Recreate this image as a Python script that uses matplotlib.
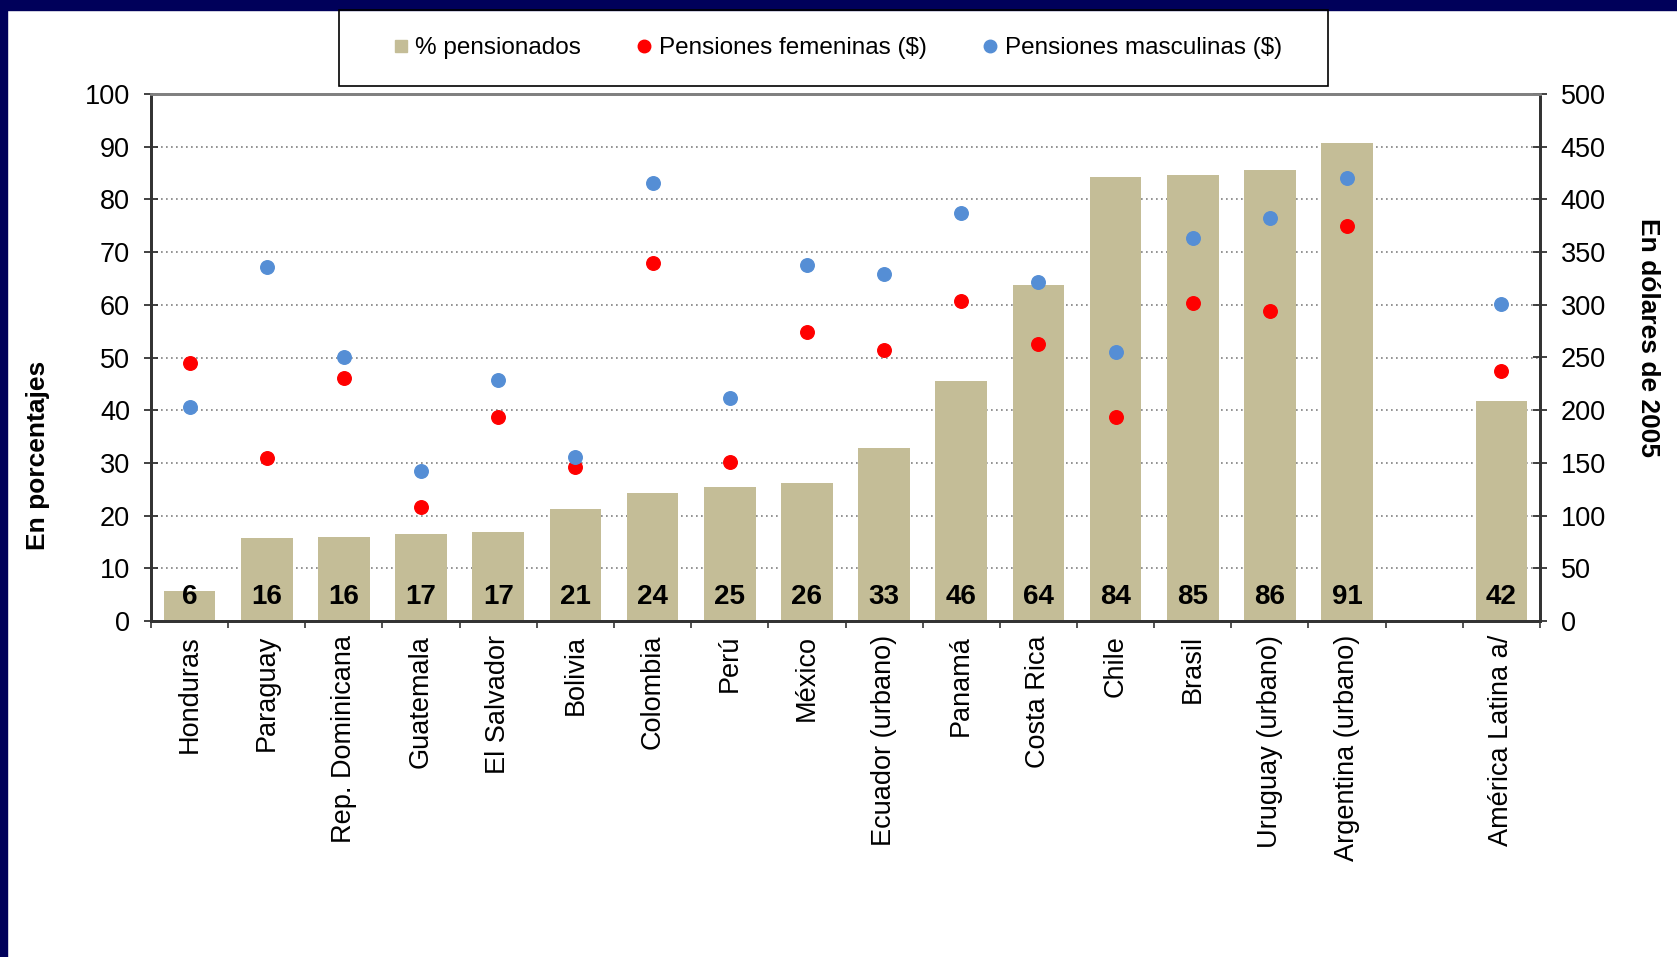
import numpy as np
import matplotlib
matplotlib.use("Agg")
import matplotlib.pyplot as plt
from matplotlib.patches import Rectangle
from matplotlib.lines import Line2D

plt.rcParams['font.family'] = ['Liberation Sans', 'DejaVu Sans']

# datos
paises = ['Honduras', 'Paraguay', 'Rep. Dominicana', 'Guatemala', 'El Salvador',
          'Bolivia', 'Colombia', 'Perú', 'México', 'Ecuador (urbano)', 'Panamá',
          'Costa Rica', 'Chile', 'Brasil', 'Uruguay (urbano)', 'Argentina (urbano)',
          'América Latina a/']
pensionados = [5.7, 15.8, 16.0, 16.6, 16.8, 21.3, 24.3, 25.4, 26.2, 32.9, 45.6,
               63.7, 84.2, 84.6, 85.6, 90.7, 41.8]
pens_fem = [245, 155, 231, 108, 194, 146, 340, 151, 274, 257, 304,
            263, 194, 302, 294, 375, 237]
pens_masc = [203, 336, 250, 142, 229, 156, 416, 212, 338, 329, 387,
             322, 255, 363, 382, 420, 301]

# posiciones: hueco antes de America Latina
pos = list(range(16)) + [17]

fig = plt.figure(figsize=(16.77, 9.57), dpi=100)
# franjas del fondo de la diapositiva
fig.patches.append(Rectangle((0, 1 - 10 / 957), 1, 10 / 957, transform=fig.transFigure,
                             color='#00005A', zorder=0))
fig.patches.append(Rectangle((0, 0), 7 / 1677, 1, transform=fig.transFigure,
                             color='#00005A', zorder=0))

ax = fig.add_axes([151 / 1677, 1 - 621 / 957, (1540 - 151) / 1677, (621 - 94) / 957])
ax2 = ax.twinx()

ax.bar(pos, pensionados, width=0.67, color='#C4BD97', zorder=2)
for x, v in zip(pos, pensionados):
    ax.text(x, 4.6, '%.0f' % v, ha='center', va='center', fontsize=20,
            fontweight='bold', zorder=3)

ax2.scatter(pos, pens_fem, s=95, color='#FF0000', zorder=4)
ax2.scatter(pos, pens_masc, s=95, color='#558ED5', zorder=4)

ax.set_xlim(-0.5, 17.5)
ax.set_ylim(0, 100)
ax2.set_ylim(0, 500)
ax.set_yticks(np.arange(0, 101, 10))
ax2.set_yticks(np.arange(0, 501, 50))

ax.yaxis.grid(True, linestyle=(0, (1, 2)), color='#808080', linewidth=1.2, zorder=0)
ax.set_axisbelow(True)

ax.set_xticks(np.arange(-0.5, 18, 1))
ax.set_xticklabels([])
ax.set_xticks(pos, minor=True)
ax.set_xticklabels(paises, minor=True, rotation=90, ha='center', va='top', fontsize=19.5)
ax.tick_params(axis='x', which='major', direction='out', length=5, width=1.2, color='#333333')
ax.tick_params(axis='x', which='minor', direction='in', length=4, width=1.2,
               color='#333333', pad=10)
ax.tick_params(axis='y', direction='inout', length=10, width=1.3, labelsize=19.5, pad=10,
               color='#333333')
ax2.tick_params(axis='y', direction='inout', length=10, width=1.3, labelsize=19.5, pad=10,
                color='#333333')

for a in (ax, ax2):
    for s in ('left', 'right', 'bottom'):
        a.spines[s].set_color('#333333')
        a.spines[s].set_linewidth(2)
    a.spines['top'].set_color('#808080')
    a.spines['top'].set_linewidth(2)

# titulos de ejes
fig.text(38.5 / 1677, 1 - 455.6 / 957, 'En porcentajes', rotation=90, ha='center',
         va='center', fontsize=19, fontweight='bold')
fig.text(1648 / 1677, 1 - 337 / 957, 'En dólares de 2005', rotation=-90, ha='center',
         va='center', fontsize=19, fontweight='bold')

# leyenda
fig.patches.append(Rectangle((339 / 1677, 1 - 86 / 957), (1328 - 339) / 1677, 76 / 957,
                             transform=fig.transFigure, fill=False, edgecolor='black',
                             linewidth=1.2, zorder=5))
handles = [
    Line2D([], [], marker='s', linestyle='none', color='#C4BD97', markersize=9),
    Line2D([], [], marker='o', linestyle='none', color='#FF0000', markersize=9),
    Line2D([], [], marker='o', linestyle='none', color='#558ED5', markersize=9),
]
fig.legend(handles, ['% pensionados', 'Pensiones femeninas ($)', 'Pensiones masculinas ($)'],
           loc='center', bbox_to_anchor=((339 + 1328) / 2 / 1677 + 0.001, 1 - 48 / 957),
           ncol=3, frameon=False, fontsize=17.5, handletextpad=0.1, columnspacing=2.1,
           handlelength=1.0)

fig.savefig('out.png', dpi=100)
